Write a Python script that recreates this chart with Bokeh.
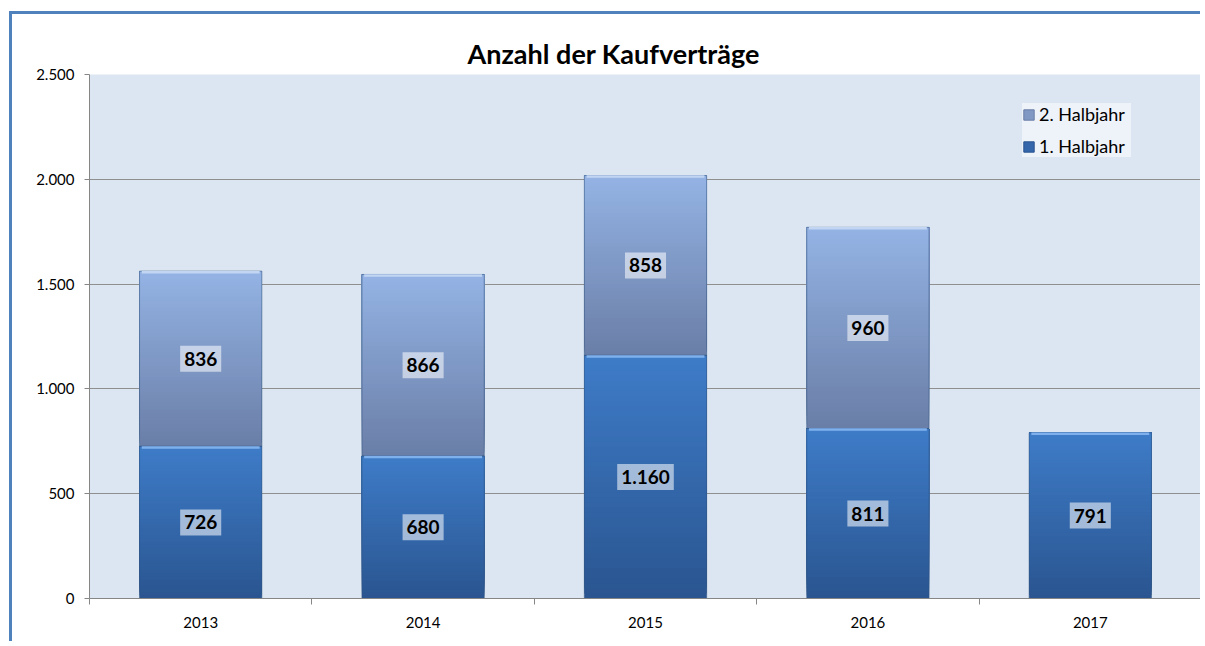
import math
from bokeh.plotting import figure
from bokeh.models import Range1d, FixedTicker, ColumnDataSource, Legend, LegendItem
from bokeh.core.properties import value
from bokeh.embed import file_html
from bokeh.resources import INLINE

# ---- data ----
years = ["2013", "2014", "2015", "2016", "2017"]
h1 = [726, 680, 1160, 811, 791]
h2 = [836, 866, 858, 960, 0]
series_names = ["1. Halbjahr", "2. Halbjahr"]
y_ticks = [0, 500, 1000, 1500, 2000, 2500]
y_tick_labels = ["0", "500", "1.000", "1.500", "2.000", "2.500"]
title_text = "Anzahl der Kaufverträge"

FONT = "Lato"
BAR_W = 0.55
S1_BOTTOM, S1_TOP = "#2a5590", "#3e7cc8"
S2_BOTTOM, S2_TOP = "#6a7ea7", "#94b3e4"


def de_fmt(v):
    return f"{v:,}".replace(",", ".")


def lerp(c1, c2, t):
    a = [int(c1[i:i + 2], 16) for i in (1, 3, 5)]
    b = [int(c2[i:i + 2], 16) for i in (1, 3, 5)]
    return "#" + "".join(f"{round(a[k] + (b[k] - a[k]) * t):02x}" for k in range(3))


p = figure(width=1191, height=630, output_backend="svg", toolbar_location=None,
           x_range=Range1d(-0.5, len(years) - 0.5), y_range=Range1d(0, 2500),
           min_border_left=77, min_border_right=2, min_border_top=60, min_border_bottom=46,
           title=title_text)
p.styles = {"border-left": "3px solid #4f81bd", "border-top": "3px solid #4f81bd",
            "margin-left": "9px", "margin-top": "11px"}

p.title.text_font = FONT
p.title.text_font_size = "27px"
p.title.text_font_style = "bold"
p.title.align = "left"
p.title.offset = 378
p.title.text_color = "#000000"

p.background_fill_color = "#dce6f2"
p.border_fill_color = "white"
p.outline_line_color = None
p.xgrid.grid_line_color = None
p.ygrid.grid_line_color = "#8f8f8f"
p.ygrid.ticker = FixedTicker(ticks=y_ticks)

# axes
p.yaxis.ticker = FixedTicker(ticks=y_ticks)
p.yaxis.major_label_overrides = {t: l for t, l in zip(y_ticks, y_tick_labels)}
p.yaxis.minor_tick_line_color = None
p.yaxis.major_tick_out = 5
p.yaxis.major_tick_in = 0
p.yaxis.major_tick_line_color = "#868686"
p.yaxis.axis_line_color = "#868686"
p.yaxis.major_label_text_font = FONT
p.yaxis.major_label_text_font_size = "15px"
p.yaxis.major_label_text_color = "#000000"
p.yaxis.major_label_standoff = 10

xs = list(range(len(years)))
p.xaxis.ticker = FixedTicker(ticks=xs, minor_ticks=[i - 0.5 for i in range(len(years) + 1)])
p.xaxis.major_label_overrides = {i: y for i, y in zip(xs, years)}
p.xaxis.major_tick_out = 0
p.xaxis.major_tick_in = 0
p.xaxis.minor_tick_out = 6
p.xaxis.minor_tick_in = 0
p.xaxis.minor_tick_line_color = "#868686"
p.xaxis.axis_line_color = "#868686"
p.xaxis.major_label_text_font = FONT
p.xaxis.major_label_text_font_size = "15px"
p.xaxis.major_label_text_color = "#000000"
p.xaxis.major_label_standoff = 12

# ---- bars with vertical gradient ----
N = 48
segments = []  # (x, bottom, top, c_bottom, c_top, light)
for i in xs:
    if h1[i] > 0:
        segments.append((i, 0, h1[i], S1_BOTTOM, S1_TOP, "#7fb0ee"))
    if h2[i] > 0:
        segments.append((i, h1[i], h1[i] + h2[i], S2_BOTTOM, S2_TOP, "#c2d6f4"))

gx, gb, gt, gc = [], [], [], []
for (x, b, t, cb, ct, _) in segments:
    for k in range(N):
        gx.append(x)
        gb.append(b + (t - b) * k / N)
        gt.append(t)  # each slice reaches the top; later slices cover -> no seams
        gc.append(lerp(cb, ct, (k + 0.5) / N))
p.vbar(x="x", bottom="b", top="t", width=BAR_W, fill_color="c", line_color=None,
       source=ColumnDataSource(dict(x=gx, b=gb, t=gt, c=gc)))

# outline + top highlight
ox = [s[0] for s in segments]
ob = [s[1] for s in segments]
ot = [s[2] for s in segments]
p.vbar(x=ox, bottom=ob, top=ot, width=BAR_W, fill_color=None,
       line_color="#33557f", line_alpha=0.55, line_width=1)
p.segment(x0=[x - BAR_W / 2 + 0.01 for x in ox], x1=[x + BAR_W / 2 - 0.01 for x in ox],
          y0=[t - 5 for t in ot], y1=[t - 5 for t in ot],
          line_color=[s[5] for s in segments], line_width=2.5)

# ---- value labels ----
lx, ly, lt = [], [], []
for i in xs:
    if h1[i] > 0:
        lx.append(i); ly.append(h1[i] / 2); lt.append(de_fmt(h1[i]))
    if h2[i] > 0:
        lx.append(i); ly.append(h1[i] + h2[i] / 2); lt.append(de_fmt(h2[i]))
p.text(x=lx, y=ly, text=lt, text_font=value(FONT), text_font_size="19px",
       text_font_style="bold", text_color="#000000", text_align="center",
       text_baseline="middle", background_fill_color="white", background_fill_alpha=0.55,
       padding=(4, 6))

# ---- legend ----
r1 = p.vbar(x=[math.nan], top=[math.nan], width=0.5,
            fill_color="#3466ab", line_color="#2a5590")
r2 = p.vbar(x=[math.nan], top=[math.nan], width=0.5,
            fill_color="#8098c4", line_color="#6a7ea7")
legend = Legend(items=[LegendItem(label=series_names[1], renderers=[r2]),
                       LegendItem(label=series_names[0], renderers=[r1])],
                location=(933, 441))
legend.background_fill_color = "#eef3f9"
legend.background_fill_alpha = 1
legend.border_line_color = None
legend.label_text_font = FONT
legend.label_text_font_size = "18px"
legend.label_text_color = "#000000"
legend.glyph_width = 13
legend.glyph_height = 13
legend.label_height = 20
legend.label_width = 92
legend.spacing = 10
legend.padding = 12
legend.label_standoff = 4
legend.margin = 0
p.add_layout(legend)

open("out.html", "w").write(file_html(p, INLINE))
